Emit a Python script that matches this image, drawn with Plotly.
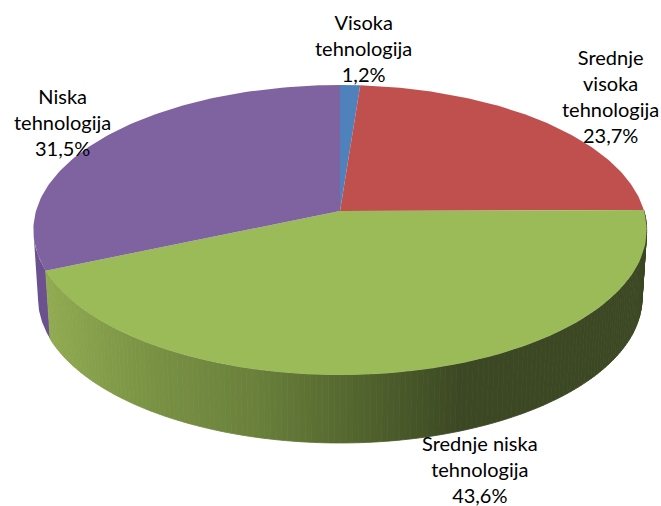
import math
import plotly.graph_objects as go

categories = ["Visoka<br>tehnologija", "Srednje<br>visoka<br>tehnologija", "Srednje niska<br>tehnologija", "Niska<br>tehnologija"]
values = [1.2, 23.7, 43.6, 31.5]
colors = ["#4f81bd", "#c0504d", "#9bbb59", "#7f63a1"]
label_xy = [(363, 48), (610, 96), (480, 469), (62, 122)]

CX, CY, A, B, K = 340, 211, 304, 142.5, 0.131
DEPTH, SHRINK = 68, 0.985


def top(t):
    u, v = math.sin(t), math.cos(t)
    w = 1 + K * v
    return CX + A * u / w, CY - B * v / w


def low(t):
    u, v = math.sin(t), math.cos(t)
    w = 1 + K * v
    return CX + SHRINK * A * u / w, CY + DEPTH - B * v / w


def arc(f, a, b, n):
    return [f(a + (b - a) * i / n) for i in range(n + 1)]


def poly(pts, color, line=0):
    return go.Scatter(
        x=[p[0] for p in pts] + [pts[0][0]],
        y=[p[1] for p in pts] + [pts[0][1]],
        mode="lines", fill="toself", fillcolor=color,
        line=dict(color=color, width=line), hoverinfo="skip", showlegend=False,
    )


def green_shade(x):
    stops = [(40, (146, 172, 82)), (150, (122, 146, 68)), (250, (107, 129, 60)),
             (350, (84, 103, 47)), (460, (60, 72, 35)), (661, (60, 72, 35))]
    for (x0, c0), (x1, c1) in zip(stops, stops[1:]):
        if x <= x1:
            f = max(0, (x - x0) / (x1 - x0))
            return "rgb(%d,%d,%d)" % tuple(round(a + (b - a) * f) for a, b in zip(c0, c1))
    return "rgb(60,72,35)"


angles = [0]
for val in values:
    angles.append(angles[-1] + val / sum(values) * 2 * math.pi)

traces = []
# purple wall, up to the left silhouette of the disc
a0, a1 = angles[3], 2 * math.pi - math.acos(-K)
traces.append(poly(arc(top, a0, a1, 40) + arc(low, a1, a0, 40), "#6c5190"))
# green wall, shaded strip by strip
n = 160
for i in range(n):
    s0 = angles[2] + (angles[3] - angles[2]) * i / n
    s1 = angles[2] + (angles[3] - angles[2]) * (i + 1) / n
    pts = [top(s0), top(s1), low(s1), low(s0)]
    traces.append(poly(pts, green_shade(sum(p[0] for p in pts) / 4), 0.8))
# top faces
for i, col in enumerate(colors):
    pts = [(CX, CY)] + arc(top, angles[i], angles[i + 1], 100)
    traces.append(poly(pts, col))

annotations = []
for name, val, (lx, ly) in zip(categories, values, label_xy):
    annotations.append(dict(
        x=lx, y=ly, xref="x", yref="y", showarrow=False, xanchor="center", yanchor="middle",
        align="center", text=name + "<br>" + f"{val:.1f}".replace(".", ",") + "%",
        font=dict(family="Lato", size=20, color="#000000"),
    ))

fig = go.Figure(traces)
fig.update_layout(
    width=661, height=506, margin=dict(l=0, r=0, t=0, b=0),
    paper_bgcolor="white", plot_bgcolor="white", showlegend=False,
    xaxis=dict(range=[0, 661], visible=False, fixedrange=True),
    yaxis=dict(range=[506, 0], visible=False, fixedrange=True),
    annotations=annotations,
)
fig.write_html("out.html", config=dict(displayModeBar=False),
               post_script="document.body.style.margin='0';document.body.style.overflow='hidden';")
